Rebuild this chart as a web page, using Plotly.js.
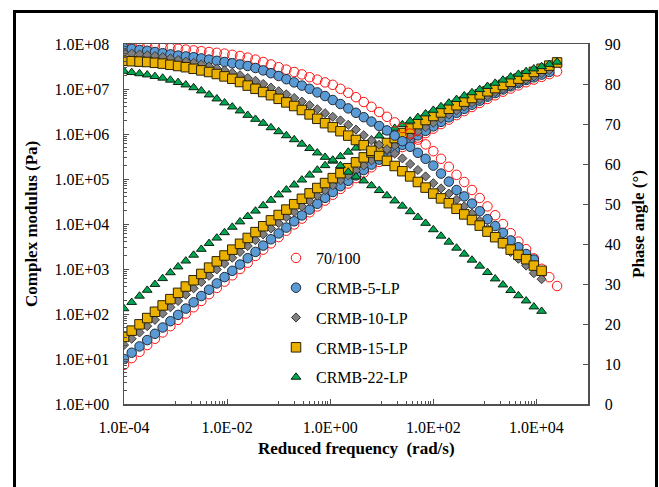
<!DOCTYPE html>
<html><head><meta charset="utf-8">
<script src="https://cdn.plot.ly/plotly-3.0.1.min.js"></script>
<style>html,body{margin:0;padding:0;background:#fff}#chart{width:659px;height:487px}</style>
</head><body><div id="chart"></div>
<script>
// Reduced frequency (rad/s)
const freq = [1.00e-4,1.41e-4,2.00e-4,2.82e-4,3.98e-4,5.62e-4,7.94e-4,
  1.12e-3,1.58e-3,2.24e-3,3.16e-3,4.47e-3,6.31e-3,8.91e-3,
  1.26e-2,1.78e-2,2.51e-2,3.55e-2,5.01e-2,7.08e-2,
  0.100,0.141,0.200,0.282,0.398,0.562,0.794,
  1.12,1.58,2.24,3.16,4.47,6.31,8.91,
  12.6,17.8,25.1,35.5,50.1,70.8,
  100,141,200,282,398,562,794,
  1122,1585,2239,3162,4467,6310,8913,
  12589,17783,25119];

const seriesNames = ['70/100','CRMB-5-LP','CRMB-10-LP','CRMB-15-LP','CRMB-22-LP'];

// log10 of complex modulus (Pa)
const logG_70_100 = [0.87,1.02,1.16,1.31,1.45,1.59,1.73, 1.87,2.01,2.15,2.29,2.44,2.58,2.72,
  2.86,3.00,3.14,3.29,3.43,3.57, 3.71,3.85,3.99,4.12,4.26,4.39,4.52,
  4.65,4.78,4.90,5.02,5.14,5.26,5.38, 5.49,5.60,5.71,5.82,5.92,6.02,
  6.12,6.22,6.32,6.42,6.51,6.60,6.69, 6.78,6.86,6.94,7.01,7.08,7.15,7.21, 7.27,7.33,7.39];
const logG_CRMB5 = [1.00,1.14,1.28,1.42,1.56,1.70,1.84, 1.98,2.12,2.26,2.40,2.54,2.68,2.82,
  2.96,3.10,3.24,3.38,3.52,3.66, 3.79,3.92,4.06,4.19,4.32,4.45,4.58,
  4.71,4.84,4.96,5.08,5.20,5.32,5.43, 5.54,5.65,5.76,5.87,5.97,6.07,
  6.17,6.27,6.37,6.47,6.56,6.65,6.74, 6.83,6.91,6.99,7.06,7.13,7.20,7.26, 7.32,7.38];
const logG_CRMB10 = [1.31,1.45,1.59,1.73,1.87,2.01,2.15, 2.29,2.43,2.57,2.71,2.85,2.99,3.12,
  3.25,3.38,3.51,3.64,3.77,3.90, 4.02,4.15,4.27,4.39,4.51,4.63,4.75,
  4.86,4.97,5.08,5.19,5.30,5.41,5.52, 5.63,5.74,5.85,5.95,6.05,6.15,
  6.25,6.34,6.43,6.52,6.61,6.69,6.77, 6.85,6.93,7.00,7.07,7.14,7.21,7.28, 7.35,7.42];
const logG_CRMB15 = [1.49,1.63,1.77,1.91,2.05,2.19,2.33, 2.47,2.61,2.75,2.89,3.03,3.17,3.30,
  3.43,3.56,3.69,3.82,3.95,4.08, 4.20,4.32,4.44,4.56,4.68,4.80,4.91,
  5.02,5.13,5.24,5.37,5.48,5.59,5.70, 5.80,5.91,6.02,6.12,6.22,6.31,
  6.40,6.48,6.56,6.64,6.72,6.80,6.88, 6.95,7.02,7.09,7.16,7.23,7.30,7.38, 7.45,7.52,7.59];
const logG_CRMB22 = [2.12,2.26,2.40,2.53,2.66,2.79,2.92, 3.05,3.18,3.31,3.44,3.57,3.69,3.81,
  3.93,4.05,4.17,4.29,4.41,4.53, 4.65,4.76,4.87,4.98,5.09,5.20,5.30,
  5.40,5.50,5.60,5.69,5.78,5.87,5.96, 6.05,6.13,6.21,6.29,6.37,6.45,
  6.53,6.61,6.69,6.77,6.85,6.92,6.99, 7.06,7.13,7.20,7.27,7.33,7.39,7.45, 7.50,7.55,7.60];

// Phase angle (degrees)
const phase_70_100 = [89.7,89.6,89.5,89.4,89.3,89.1,89.0, 88.8,88.6,88.4,88.2,88.0,87.8,87.6,
  87.3,87.0,86.6,86.1,85.5,84.9, 84.2,83.6,83.0,82.4,81.7,81.1,80.4,
  79.8,78.8,77.8,76.7,75.5,74.3,73.0, 71.8,70.4,69.0,67.6,66.1,64.9,
  63.2,61.3,59.3,57.3,55.5,53.5,51.5, 49.4,47.2,45.0,42.7,40.6,38.7,36.4, 33.8,31.7,29.5];
const phase_CRMB5 = [89.0,88.8,88.5,88.3,88.0,87.7,87.4, 87.1,86.9,86.7,86.4,86.1,85.8,85.5,
  85.2,84.9,84.5,84.0,83.4,82.7, 82.0,81.2,80.4,79.6,78.8,77.9,77.0,
  76.0,75.0,73.9,72.8,71.7,70.6,69.5, 68.4,67.1,65.7,64.3,62.8,61.3,
  59.6,57.6,55.6,53.5,51.9,50.1,48.2, 46.2,44.5,42.8,40.9,39.2,37.5,36.1];
const phase_CRMB10 = [87.8,87.6,87.4,87.2,87.0,86.7,86.4, 86.0,85.6,85.3,84.9,84.4,83.9,83.4,
  82.8,82.2,81.5,80.8,80.0,79.1, 78.2,77.4,76.5,75.6,74.7,73.7,72.7,
  71.8,70.9,69.8,68.6,67.2,65.9,64.8, 63.7,62.6,61.4,60.0,58.5,56.9,
  55.2,53.9,52.6,51.1,49.4,47.6,45.8, 43.8,41.8,40.0,38.0,36.3,34.6,32.7, 31.2];
const phase_CRMB15 = [85.8,85.7,85.6,85.5,85.3,85.1,84.8, 84.5,84.2,83.8,83.4,83.0,82.5,81.9,
  81.3,80.5,79.6,78.8,78.0,77.2, 76.3,75.4,74.5,73.5,72.4,71.3,70.2,
  69.2,68.2,67.1,66.0,64.7,63.3,62.0, 60.8,59.5,58.2,56.9,55.5,54.1,
  52.6,51.4,50.2,48.8,47.4,46.0,44.6, 43.1,41.7,40.2,38.6,37.3,36.2,34.6, 33.3];
const phase_CRMB22 = [83.2,82.9,82.6,82.3,81.9,81.5,81.0, 80.4,79.8,79.1,78.3,77.3,76.3,75.3,
  74.3,73.3,72.2,71.2,70.2,69.1, 68.1,67.1,66.1,65.0,63.9,62.8,61.7,
  61.0,59.6,58.0,56.8,55.8,54.6,53.4, 52.1,50.8,49.5,48.1,46.7,45.2,
  43.6,42.0,40.5,39.0,37.5,36.0,34.5, 32.9,31.3,29.8,28.4,27.1,25.8,24.3, 23.2];

const xTickVals = [1e-4,1e-2,1,1e2,1e4];
const xTickText = ['1.0E-04','1.0E-02','1.0E+00','1.0E+02','1.0E+04'];
const yTickVals = [1,10,100,1e3,1e4,1e5,1e6,1e7,1e8];
const yTickText = ['1.0E+00','1.0E+01','1.0E+02','1.0E+03','1.0E+04','1.0E+05','1.0E+06','1.0E+07','1.0E+08'];
const y2TickVals = [0,10,20,30,40,50,60,70,80,90];

const allLogG = [logG_70_100, logG_CRMB5, logG_CRMB10, logG_CRMB15, logG_CRMB22];
const allPhase = [phase_70_100, phase_CRMB5, phase_CRMB10, phase_CRMB15, phase_CRMB22];

const markerStyles = [
  {symbol:'circle-open', color:'#FF1010', size:9.5, line:{width:1, color:'#FF1010'}},
  {symbol:'circle', color:'#5B9BD5', size:9.5, line:{width:1, color:'#1E2A38'}},
  {symbol:'diamond', color:'#7F7F7F', size:7, line:{width:1, color:'#3A3A3A'}},
  {symbol:'square', color:'#EBB100', size:9.5, line:{width:1, color:'#2A2000'}},
  {symbol:'triangle-up', color:'#00A651', size:8.5, line:{width:1, color:'#0A2410'}}
];

// minor x ticks at 1..9 x 10^odd
const xMinor = [];
[-3,-1,1,3].forEach(function(p){ for (let k=1;k<=9;k++) xMinor.push(k*Math.pow(10,p)); });

const traces = [];
seriesNames.forEach(function(name, i){
  const G = allLogG[i].map(function(v){ return Math.pow(10, v); });
  traces.push({x: freq.slice(0, G.length), y: G, type:'scatter', mode:'markers',
    name: name, legendgroup: name, showlegend: true, marker: markerStyles[i], xaxis:'x', yaxis:'y'});
  traces.push({x: freq.slice(0, allPhase[i].length), y: allPhase[i], type:'scatter', mode:'markers',
    name: name, legendgroup: name, showlegend: false, marker: markerStyles[i], xaxis:'x', yaxis:'y2'});
});

const L=124, R=588, T=44, B=404;
function pxX(p){ return (p-L)/(R-L); }
function pxY(p){ return (B-p)/(B-T); }

const serif = 'Liberation Serif, Times New Roman, serif';
const tickFont = {family:serif, size:16, color:'#000'};
const axisColor = '#505050';

const layout = {
  width:659, height:487,
  margin:{l:L, r:659-R, t:T, b:487-B, pad:0},
  paper_bgcolor:'#fff', plot_bgcolor:'#fff',
  showlegend:true,
  font: tickFont,
  xaxis:{type:'log', range:[-4,5], tickmode:'array', tickvals:xTickVals, ticktext:xTickText,
    ticks:'inside', ticklen:5, tickwidth:1, tickcolor:axisColor,
    showline:true, linecolor:axisColor, linewidth:1.5, mirror:true, showgrid:false, zeroline:false,
    tickfont:tickFont, ticklabelstandoff:8,
    minor:{tickmode:'array', tickvals:xMinor, ticks:'inside', ticklen:3, tickcolor:axisColor, showgrid:false}},
  yaxis:{type:'log', range:[0,8], tickmode:'array', tickvals:yTickVals, ticktext:yTickText,
    ticks:'inside', ticklen:5, tickwidth:1, tickcolor:axisColor,
    showline:true, linecolor:axisColor, linewidth:1.5, showgrid:false, zeroline:false,
    tickfont:tickFont, ticklabelstandoff:10,
    minor:{dtick:'D1', ticks:'inside', ticklen:3, tickcolor:axisColor, showgrid:false}},
  yaxis2:{overlaying:'y', side:'right', range:[0,90], tickmode:'array', tickvals:y2TickVals,
    ticks:'inside', ticklen:5, tickwidth:1, tickcolor:axisColor,
    showline:true, linecolor:axisColor, linewidth:1.5, showgrid:false, zeroline:false,
    tickfont:tickFont, ticklabelstandoff:12},
  legend:{x:pxX(276), y:pxY(241), xanchor:'left', yanchor:'top', bgcolor:'rgba(0,0,0,0)',
    font:{family:serif, size:16, color:'#000'},
    traceorder:'grouped', tracegroupgap:6, itemsizing:'trace'},
  annotations:[
    {text:'<b>Reduced frequency  (rad/s)</b>', xref:'paper', yref:'paper', x:0.5, y:pxY(448),
      xanchor:'center', yanchor:'middle', showarrow:false,
      font:{family:serif, size:17, color:'#000'}},
    {text:'<b>Complex modulus (Pa)</b>', xref:'paper', yref:'paper', x:pxX(31), y:0.5,
      xanchor:'center', yanchor:'middle', textangle:-90, showarrow:false,
      font:{family:serif, size:17, color:'#000'}},
    {text:'<b>Phase angle (°)</b>', xref:'paper', yref:'paper', x:pxX(638), y:0.5,
      xanchor:'center', yanchor:'middle', textangle:-90, showarrow:false,
      font:{family:serif, size:17, color:'#000'}}
  ],
  shapes:[
    {type:'rect', xref:'paper', yref:'paper', x0:pxX(14.5), x1:pxX(656.5), y0:pxY(492), y1:pxY(11.5),
      line:{color:'#000', width:3}, fillcolor:'rgba(0,0,0,0)', layer:'below'}
  ]
};

Plotly.newPlot('chart', traces, layout, {staticPlot:true, displayModeBar:false});
</script>
</body></html>
